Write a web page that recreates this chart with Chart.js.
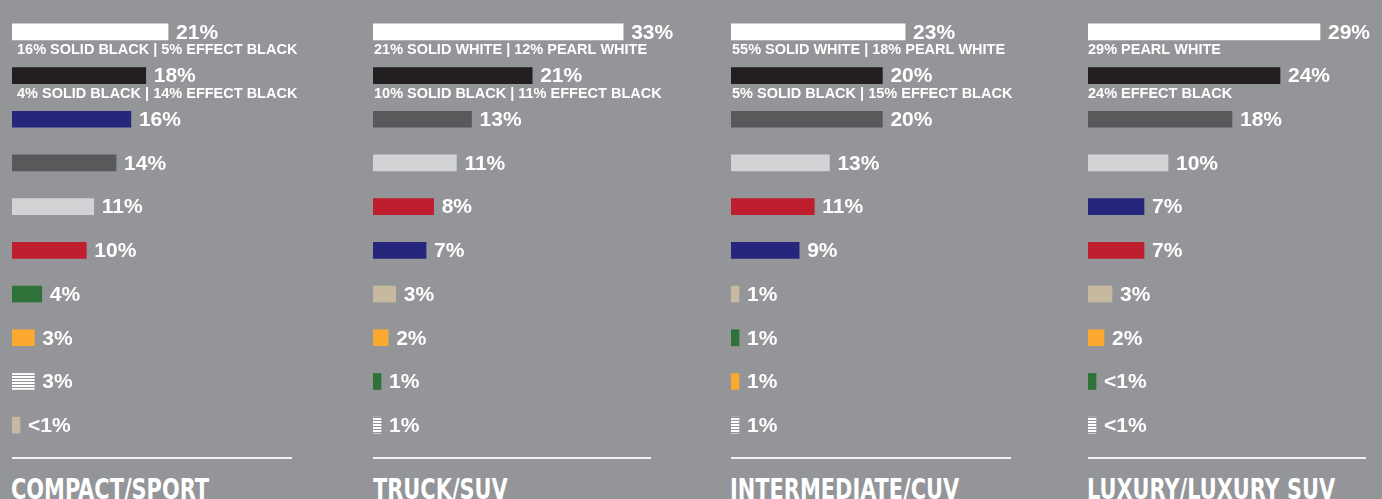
<!DOCTYPE html>
<html>
<head>
<meta charset="utf-8">
<script src="https://cdn.jsdelivr.net/npm/chart.js@4.4.1/dist/chart.umd.min.js"></script>
<style>
  html, body { margin: 0; padding: 0; overflow: hidden; }
  body { width: 1382px; height: 499px; background: #939598; position: relative; }
  .panel { position: absolute; top: 10px; }
  .rule { position: absolute; top: 457px; height: 2px; background: #f1f1f2; }
  .title { position: absolute; top: 473px; color: #fff; font: bold 28px "Liberation Sans Narrow", "DejaVu Sans Condensed", sans-serif; white-space: nowrap; transform: scaleX(0.83); transform-origin: 0 0; }
</style>
</head>
<body>

<div class="panel" style="left:12px"><canvas id="c0"></canvas></div>
<div class="panel" style="left:373px"><canvas id="c1"></canvas></div>
<div class="panel" style="left:731px"><canvas id="c2"></canvas></div>
<div class="panel" style="left:1088px"><canvas id="c3"></canvas></div>

<div class="rule" style="left:12px;width:280px"></div>
<div class="rule" style="left:373px;width:278px"></div>
<div class="rule" style="left:731px;width:280px"></div>
<div class="rule" style="left:1088px;width:278px"></div>

<div class="title" id="t0" style="left:11px"></div>
<div class="title" id="t1" style="left:373px"></div>
<div class="title" id="t2" style="left:730px"></div>
<div class="title" id="t3" style="left:1087px"></div>

<script>
// data, one set per segment (values in %; 0.5 stands for "<1%")
var titles = ["COMPACT/SPORT", "TRUCK/SUV", "INTERMEDIATE/CUV", "LUXURY/LUXURY SUV"];

var compactColors = ["White", "Black", "Blue", "Dark Gray", "Light Gray", "Red", "Green", "Yellow/Gold", "Other", "Beige/Brown"];
var compactValues = [21, 18, 16, 14, 11, 10, 4, 3, 3, 0.5];
var compactNotes  = ["16% SOLID BLACK | 5% EFFECT BLACK", "4% SOLID BLACK | 14% EFFECT BLACK"];

var truckColors = ["White", "Black", "Dark Gray", "Light Gray", "Red", "Blue", "Beige/Brown", "Yellow/Gold", "Green", "Other"];
var truckValues = [33, 21, 13, 11, 8, 7, 3, 2, 1, 1];
var truckNotes  = ["21% SOLID WHITE | 12% PEARL WHITE", "10% SOLID BLACK | 11% EFFECT BLACK"];

var interColors = ["White", "Black", "Dark Gray", "Light Gray", "Red", "Blue", "Beige/Brown", "Green", "Yellow/Gold", "Other"];
var interValues = [23, 20, 20, 13, 11, 9, 1, 1, 1, 1];
var interNotes  = ["55% SOLID WHITE | 18% PEARL WHITE", "5% SOLID BLACK | 15% EFFECT BLACK"];

var luxColors = ["White", "Black", "Dark Gray", "Light Gray", "Blue", "Red", "Beige/Brown", "Yellow/Gold", "Green", "Other"];
var luxValues = [29, 24, 18, 10, 7, 7, 3, 2, 0.5, 0.5];
var luxNotes  = ["29% PEARL WHITE", "24% EFFECT BLACK"];

// striped fill for "Other"
var pc = document.createElement("canvas");
pc.width = 4; pc.height = 3;
var pctx = pc.getContext("2d");
pctx.fillStyle = "#ffffff";
pctx.fillRect(0, 0, 4, 2);
var stripes = pctx.createPattern(pc, "repeat");

var fills = {
    "White": "#ffffff",
    "Black": "#231f20",
    "Blue": "#27267d",
    "Dark Gray": "#58595b",
    "Light Gray": "#d1d3d4",
    "Red": "#be1e2d",
    "Green": "#2e7139",
    "Yellow/Gold": "#fba92f",
    "Beige/Brown": "#c7b99f",
    "Other": stripes
};

var panels = [
    {cats: compactColors, vals: compactValues, notes: compactNotes, w: 355, pxPer: 7.43, noteX: 5},
    {cats: truckColors, vals: truckValues, notes: truckNotes, w: 355, pxPer: 7.58, noteX: 1},
    {cats: interColors, vals: interValues, notes: interNotes, w: 355, pxPer: 7.57, noteX: 1},
    {cats: luxColors, vals: luxValues, notes: luxNotes, w: 294, pxPer: 8.0, noteX: 0}
];

var labelPlugin = {
    id: "barLabels",
    afterDatasetsDraw: function(chart, args, opts) {
        var ctx = chart.ctx;
        var meta = chart.getDatasetMeta(0);
        var vals = chart.data.datasets[0].data;
        ctx.save();
        ctx.fillStyle = "#ffffff";
        ctx.textBaseline = "middle";
        meta.data.forEach(function(bar, i) {
            var v = vals[i];
            var txt = v < 1 ? "<1%" : v + "%";
            ctx.font = "bold 21px 'Liberation Sans', sans-serif";
            ctx.fillText(txt, bar.x + 8, bar.y + 1);
            if (opts.notes[i]) {
                ctx.font = "bold 14.5px 'Liberation Sans', sans-serif";
                ctx.fillText(opts.notes[i], opts.noteX, bar.y + 18);
            }
        });
        ctx.restore();
    }
};

panels.forEach(function(p, k) {
    document.getElementById("t" + k).textContent = titles[k];
    var cv = document.getElementById("c" + k);
    cv.parentNode.style.width = p.w + "px";
    cv.parentNode.style.height = "437px";

    new Chart(cv, {
        type: "bar",
        data: {
            labels: p.cats,
            datasets: [{
                data: p.vals,
                backgroundColor: p.cats.map(function(c) { return fills[c]; }),
                borderWidth: 0,
                barThickness: 16,
                minBarLength: 8
            }]
        },
        options: {
            indexAxis: "y",
            responsive: true,
            maintainAspectRatio: false,
            animation: false,
            layout: { padding: 0 },
            scales: {
                x: { display: false, min: 0, max: p.w / p.pxPer },
                y: { display: false }
            },
            plugins: {
                legend: { display: false },
                tooltip: { enabled: false },
                barLabels: { notes: p.notes, noteX: p.noteX }
            }
        },
        plugins: [labelPlugin]
    });
});
</script>
</body>
</html>
